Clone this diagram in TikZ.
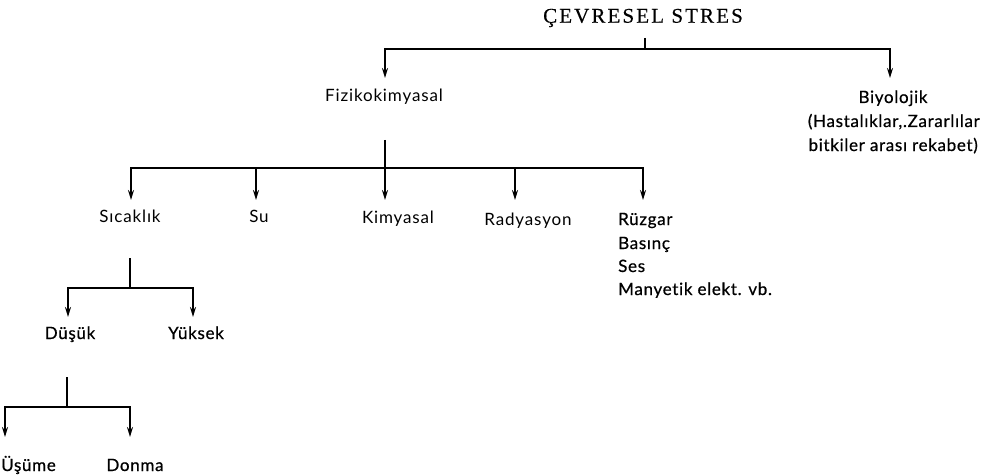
\documentclass[tikz,border=0pt]{standalone}
\usepackage{fontspec}
\usetikzlibrary{arrows.meta}
\newfontfamily\labfont{Lato}[LetterSpace=5,Ligatures=NoCommon]
\newfontfamily\labbfont{Lato}[LetterSpace=4,Ligatures=NoCommon,FakeBold=0.6]
\newfontfamily\ttlfont{Liberation Serif}[LetterSpace=10,FakeBold=0.4]
\begin{document}
\begin{tikzpicture}[x=1pt,y=-1pt,
  lbl/.style={font=\labfont\fontsize{17}{20}\selectfont, inner sep=0pt, text height=12pt, text depth=0pt},
  lblb/.style={lbl, font=\labbfont\fontsize{17}{20}\selectfont},
  ttl/.style={font=\ttlfont\fontsize{21}{24}\selectfont, inner sep=0pt},
  ln/.style={line width=1.8pt},
  arr/.style={line width=1.8pt, -{Stealth[length=10pt,width=6pt]}}]
\useasboundingbox (0,0) rectangle (982,476);
% texts
\node[ttl] (title) at (643,18) {ÇEVRESEL STRES};
\node[lbl] (fiz) at (384,96) {Fizikokimyasal};
\node[lblb] (biy) at (893,97) {Biyolojik};
\node[lblb, anchor=east] (biy2) at (980,121) {(Hastalıklar,.Zararlılar};
\node[lblb, anchor=east] (biy3) at (978,145) {bitkiler arası rekabet)};
\node[lbl] (sic) at (130,216) {Sıcaklık};
\node[lbl] (su) at (259,216) {Su};
\node[lbl] (kim) at (398,217) {Kimyasal};
\node[lbl] (rad) at (528,219) {Radyasyon};
\node[lblb, anchor=west] (ruz) at (618,219) {Rüzgar};
\node[lblb, anchor=west] (bas) at (618,243) {Basınç};
\node[lblb, anchor=west] (ses) at (618,266) {Ses};
\node[lblb, anchor=west] (man) at (618,289) {Manyetik elekt. vb.};
\node[lblb] (dus) at (70,333) {Düşük};
\node[lblb] (yuk) at (196,333) {Yüksek};
\node[lblb, anchor=west] (usu) at (1,465) {Üşüme};
\node[lblb] (don) at (135,465) {Donma};
% level 1
\coordinate (t1) at (645,38);
\coordinate (j1) at (645,49);
\coordinate (aFiz) at (385,78);
\coordinate (aBiy) at (890,78);
\draw[ln] (t1) -- (j1);
\draw[arr] (j1) -| (aFiz);
\draw[arr] (j1) -| (aBiy);
% level 2
\coordinate (s2) at (385,140);
\coordinate (j2) at (385,168);
\coordinate (aSic) at (131,200);
\coordinate (aSu) at (256,200);
\coordinate (aKim) at (385,200);
\coordinate (aRad) at (515,200);
\coordinate (aRuz) at (643,200);
\draw[ln] (s2) -- (j2);
\draw[arr] (j2) -| (aSic);
\draw[arr] (j2) -| (aRuz);
\draw[arr] (j2) -- (aKim);
\draw[arr] (aSu |- j2) -- (aSu);
\draw[arr] (aRad |- j2) -- (aRad);
% level 3
\coordinate (s3) at (130,258);
\coordinate (j3) at (130,288);
\coordinate (aDus) at (68,317);
\coordinate (aYuk) at (193,317);
\draw[ln] (s3) -- (j3);
\draw[arr] (j3) -| (aDus);
\draw[arr] (j3) -| (aYuk);
% level 4
\coordinate (s4) at (67,377);
\coordinate (j4) at (67,407);
\coordinate (aUsu) at (5,437);
\coordinate (aDon) at (130,437);
\draw[ln] (s4) -- (j4);
\draw[arr] (j4) -| (aUsu);
\draw[arr] (j4) -| (aDon);
\end{tikzpicture}
\end{document}
